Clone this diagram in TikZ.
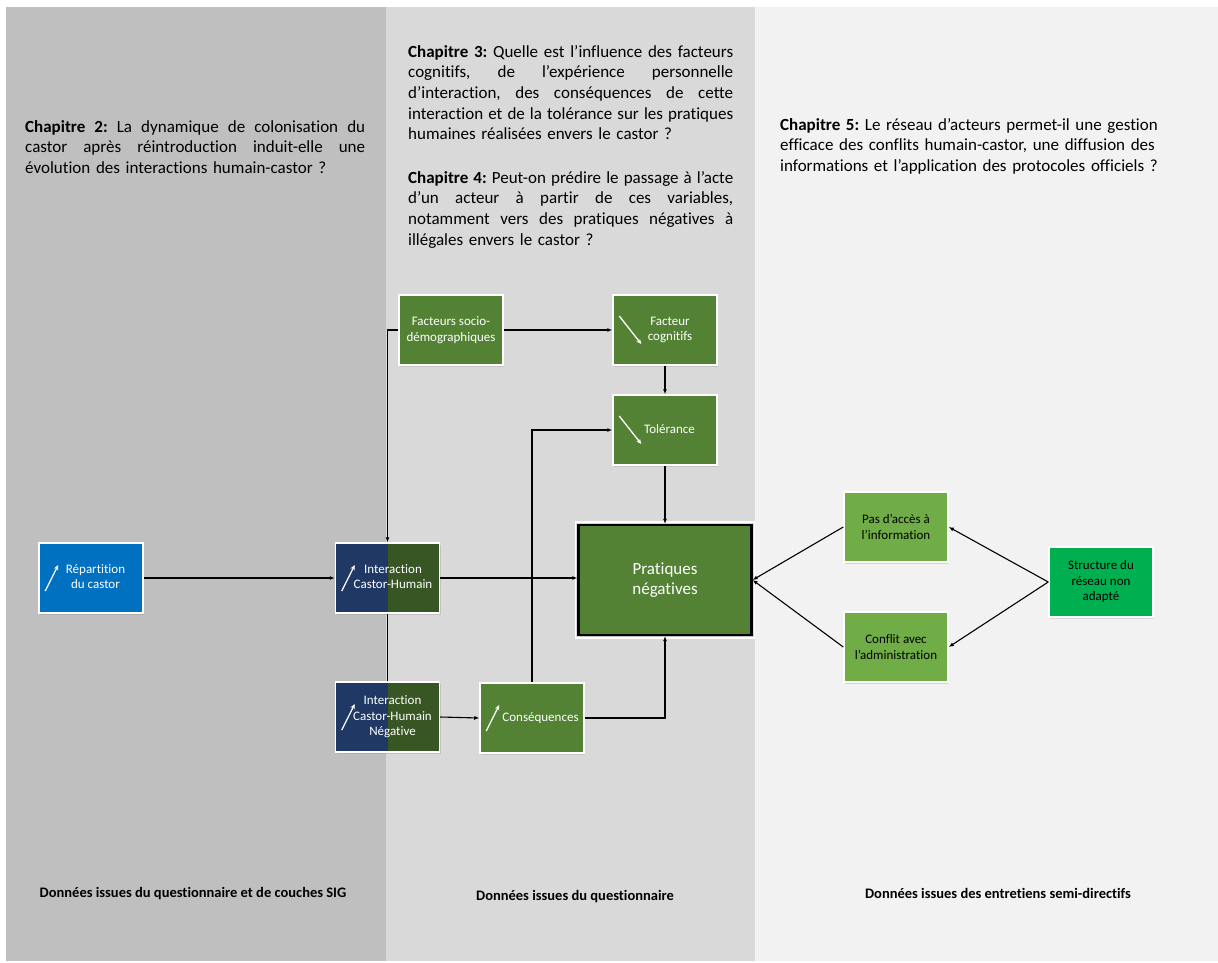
\documentclass[tikz,border=0pt]{standalone}
\usepackage{fontspec}
\setmainfont{Carlito}[Ligatures=NoCommon]
\usepackage{xcolor}
\usepackage{tikz}
\usetikzlibrary{arrows.meta,calc,positioning,shadows}
\frenchspacing

\definecolor{fondgauche}{HTML}{BFBFBF}
\definecolor{fondmilieu}{HTML}{D9D9D9}
\definecolor{fonddroite}{HTML}{F2F2F2}
\definecolor{bleu}{HTML}{0070C0}
\definecolor{marine}{HTML}{1F3864}
\definecolor{vertfonce}{HTML}{375623}
\definecolor{vert}{HTML}{548235}
\definecolor{vertclair}{HTML}{70AD47}
\definecolor{vertvif}{HTML}{00B050}

% petites fleches blanches dans les boites (hausse / baisse)
\newcommand{\hausse}[1]{\draw[white,line width=1.3pt,-{Stealth[length=5pt,width=4.5pt]}]
  ($(#1.west)+(7,13)$) -- ($(#1.west)+(20,-13)$);}
\newcommand{\baisse}[1]{\draw[white,line width=1.3pt,-{Stealth[length=5pt,width=4.5pt]}]
  ($(#1.west)+(7,-14)$) -- ($(#1.west)+(29,14)$);}
% texte decale vers la droite (place pour la fleche)
\newcommand{\decale}[2]{\kern#1\begin{tabular}{@{}c@{}}#2\end{tabular}}
% ligne justifiee sur une largeur donnee
\newcommand{\ligne}[2]{\leavevmode\hbox to #1{\spaceskip=.23em plus 3em\relax #2}}

\begin{document}
\begin{tikzpicture}[x=1pt,y=-1pt,>=latex]
\tikzstyle{boite}=[rectangle,draw=white,line width=1.5pt,text=white,align=center,
                   minimum width=104pt,minimum height=70pt,inner sep=2pt,
                   font=\fontsize{13}{15.5}\selectfont,
                   drop shadow={opacity=0.25,shadow xshift=1pt,shadow yshift=-1.5pt}]
\tikzstyle{question}=[anchor=north west,inner sep=0pt,align=left,
                      font=\fontsize{17}{20.7}\selectfont]
\tikzstyle{source}=[inner sep=0pt,font=\fontsize{14.5}{16}\selectfont\bfseries]
\tikzstyle{fleche}=[-{Latex[length=5pt,width=4pt]},line width=1.1pt,black]

\useasboundingbox (0,0) rectangle (1218,963);

% --- fonds des trois colonnes ---
\fill[fondgauche] (6,7) rectangle (386,961);
\fill[fondmilieu] (386,7) rectangle (755,961);
\fill[fonddroite] (755,7) rectangle (1218,961);

% --- questions de recherche ---
\node[question,text width=340pt] (chap2) at (25,120)
  {\ligne{340pt}{\textbf{Chapitre 2:} La dynamique de colonisation du}\\
   \ligne{340pt}{castor après réintroduction induit-elle une}\\
   évolution des interactions humain-castor ?};
\node[question,text width=325pt] (chap3) at (408,45)
  {\ligne{325pt}{\textbf{Chapitre 3:} Quelle est l’influence des facteurs}\\
   \ligne{325pt}{cognitifs, de l’expérience personnelle}\\
   \ligne{325pt}{d’interaction, des conséquences de cette}\\
   \ligne{325pt}{interaction et de la tolérance sur les pratiques}\\
   humaines réalisées envers le castor ?};
\node[question,text width=325pt] (chap4) at (408,171)
  {\ligne{325pt}{\textbf{Chapitre 4:} Peut-on prédire le passage à l’acte}\\
   \ligne{325pt}{d’un acteur à partir de ces variables,}\\
   \ligne{325pt}{notamment vers des pratiques négatives à}\\
   illégales envers le castor ?};
\node[question,text width=400pt] (chap5) at (780,118)
  {\textbf{Chapitre 5:} Le réseau d'acteurs permet-il une gestion\\
   efficace des conflits humain-castor, une diffusion des\\
   informations et l'application des protocoles officiels ?};

% --- boites ---
\node[boite,fill=bleu] (repartition) at (91,578) {\decale{9pt}{Répartition\\du castor}};
\node[boite,fill=vertfonce,
      path picture={\fill[marine] (path picture bounding box.south west)
                    rectangle (path picture bounding box.north);}]
  (interaction) at (387.5,578) {\decale{11pt}{Interaction\\Castor-Humain}};
\node[boite,fill=vertfonce,
      path picture={\fill[marine] (path picture bounding box.south west)
                    rectangle (path picture bounding box.north);}]
  (negative) at (387.5,717) {\decale{10pt}{Interaction\\Castor-Humain\\Négative}};
\node[boite,fill=vert] (socio) at (451,330) {Facteurs socio-\\démographiques};
\node[boite,fill=vert] (cognitif) at (665,330) {\decale{10pt}{Facteur\\cognitifs}};
\node[boite,fill=vert] (tolerance) at (665,430) {\decale{9pt}{Tolérance}};
\node[boite,fill=vert] (consequences) at (532,718) {\decale{17pt}{Conséquences}};
\node[boite,fill=vert,draw=black,line width=2.2pt,minimum width=173pt,minimum height=110pt,
      font=\fontsize{17}{20}\selectfont] (pratiques) at (665,580) {Pratiques\\négatives};
\draw[white,line width=1.5pt] ($(pratiques.north west)+(-2,-2)$) rectangle ($(pratiques.south east)+(2,2)$);
\node[boite,fill=vertclair,text=black] (acces) at (896,527) {Pas d’accès à\\l’information};
\node[boite,fill=vertclair,text=black] (conflit) at (896,647) {Conflit avec\\l’administration};
\node[boite,fill=vertvif,text=black] (structure) at (1101,582) {Structure du\\réseau non\\adapté};

\hausse{repartition}
\hausse{interaction}
\hausse{negative}
\hausse{consequences}
\baisse{cognitif}
\baisse{tolerance}

% --- liens ---
\draw[fleche] (repartition.east) -- (interaction.west);
\draw[fleche] (socio.west) -| (interaction.north);
\draw[line width=1.1pt] (interaction.south) -- (negative.north);
\draw[fleche] (socio.east) -- (cognitif.west);
\draw[fleche] (cognitif.south) -- (tolerance.north);
\draw[fleche] (tolerance.south) -- (pratiques.north);
\draw[fleche] (interaction.east) -- (interaction.east -| pratiques.west);
\draw[fleche] (negative.east) -- (consequences.west);
\draw[fleche] (consequences.north) |- (tolerance.west);
\draw[fleche] (consequences.east) -| (pratiques.south);
\draw[fleche] (acces.west) -- (pratiques.east);
\draw[fleche] (conflit.west) -- (pratiques.east);
\draw[fleche] (structure.west) -- (acces.east);
\draw[fleche] (structure.west) -- (conflit.east);

% --- sources des donnees ---
\node[source] (src1) at (193,894) {Données issues du questionnaire et de couches SIG};
\node[source] (src2) at (575,897) {Données issues du questionnaire};
\node[source] (src3) at (998,893) {Données issues des entretiens semi-directifs};

\end{tikzpicture}
\end{document}
